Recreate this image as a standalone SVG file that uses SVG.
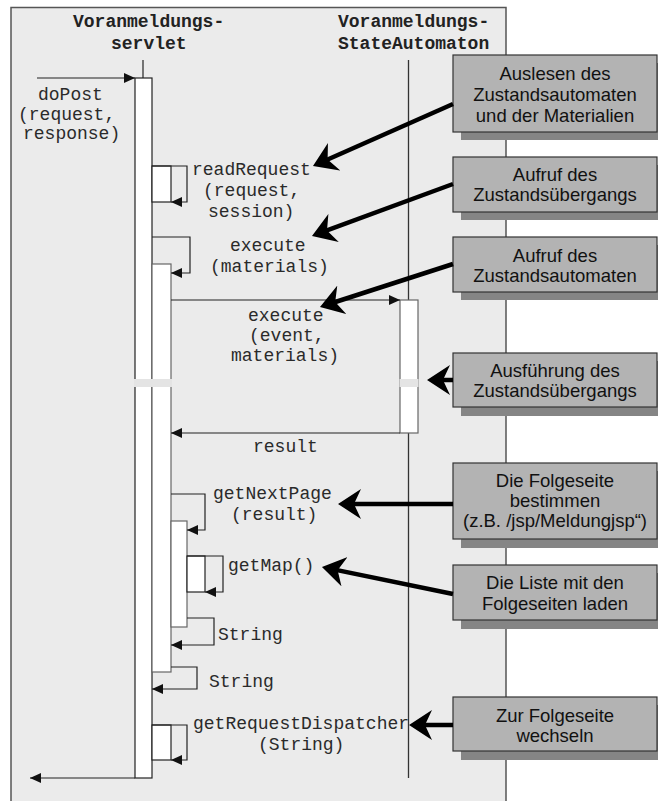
<svg xmlns="http://www.w3.org/2000/svg" width="658" height="801" viewBox="0 0 658 801">
  <style>
    .panel { fill: #ebebeb; stroke: #555; stroke-width: 1.5; }
    .life { stroke: #333; stroke-width: 1.3; fill: none; }
    .bar { fill: #fff; stroke: #222; stroke-width: 1.2; }
    .bar2 { fill: #fff; stroke: #666; stroke-width: 1.2; }
    .msg { stroke: #222; stroke-width: 1.2; fill: none; }
    .code { font-family: "Liberation Mono", "Courier New", monospace; font-size: 18px; fill: #2a2a2a; }
    .head { font-family: "Liberation Mono", "Courier New", monospace; font-size: 18px; font-weight: bold; fill: #222; }
    .note { fill: #b3b3b3; stroke: #333; stroke-width: 1.2; }
    .shadow { fill: #858585; }
    .ntext { font-family: "Liberation Sans", Arial, sans-serif; font-size: 18.5px; fill: #111; text-anchor: middle; }
    .ptr { stroke: #000; stroke-width: 4.5; fill: none; marker-end: url(#stealth); }
    .band { fill: #e4e4e4; }
  </style>
  <defs>
    <marker id="tri" markerUnits="userSpaceOnUse" markerWidth="11" markerHeight="10" refX="11" refY="5" orient="auto">
      <path d="M0,0 L11,5 L0,10 z" fill="#111"/>
    </marker>
    <marker id="stealth" markerUnits="userSpaceOnUse" markerWidth="23" markerHeight="30" refX="15" refY="15" orient="auto">
      <path d="M0,0 L23,15 L0,30 L7,15 z" fill="#000"/>
    </marker>
  </defs>

  <!-- frame of the sequence -->
  <path class="panel" d="M11,802 L11,7.5 L506,7.5 L506,802"/>

  <!-- lifeline: servlet -->
  <g id="servlet">
    <text class="head" x="73" y="27">Voranmeldungs-</text>
    <text class="head" x="111" y="49">servlet</text>
    <line class="life" x1="143" y1="60" x2="143" y2="78"/>
    <rect class="bar" x="135" y="78" width="17" height="700"/>
    <rect class="bar" x="152" y="166" width="19" height="36"/>
    <rect class="bar2" x="152" y="264" width="19" height="408"/>
    <rect class="bar2" x="171" y="521" width="16" height="106"/>
    <rect class="bar" x="187" y="556" width="18" height="36"/>
    <rect class="bar" x="152" y="725" width="19" height="35"/>
    <rect class="band" x="134" y="379" width="38" height="8"/>
  </g>

  <!-- lifeline: state automaton -->
  <g id="automaton">
    <text class="head" x="338" y="27">Voranmeldungs-</text>
    <text class="head" x="338" y="49">StateAutomaton</text>
    <line class="life" x1="408.5" y1="60" x2="408.5" y2="778"/>
    <rect class="bar2" x="400" y="300" width="18" height="133"/>
    <rect class="band" x="399.5" y="379" width="19" height="8"/>
  </g>

  <!-- messages -->
  <g id="connectors">
    <line class="msg" x1="37" y1="78" x2="135" y2="78" marker-end="url(#tri)"/>
    <path class="msg" d="M152,166 H187 V202 H171" marker-end="url(#tri)"/>
    <path class="msg" d="M152,237 H190 V273 H171" marker-end="url(#tri)"/>
    <line class="msg" x1="171" y1="300" x2="400" y2="300" marker-end="url(#tri)"/>
    <line class="msg" x1="400" y1="433" x2="171" y2="433" marker-end="url(#tri)"/>
    <path class="msg" d="M171,494 H205 V530 H187" marker-end="url(#tri)"/>
    <path class="msg" d="M187,556 H223 V592 H205" marker-end="url(#tri)"/>
    <path class="msg" d="M187,618 H214 V645 H171" marker-end="url(#tri)"/>
    <path class="msg" d="M171,667 H197 V689 H152" marker-end="url(#tri)"/>
    <path class="msg" d="M152,725 H187 V760 H171" marker-end="url(#tri)"/>
    <line class="msg" x1="135" y1="778" x2="30" y2="778" marker-end="url(#tri)"/>
  </g>

  <!-- message labels -->
  <g id="labels">
    <text class="code" x="38" y="100">doPost</text>
    <text class="code" x="18" y="120">(request,</text>
    <text class="code" x="23" y="139">response)</text>
    <text class="code" x="192" y="175">readRequest</text>
    <text class="code" x="203" y="196">(request,</text>
    <text class="code" x="208" y="217">session)</text>
    <text class="code" x="230" y="251">execute</text>
    <text class="code" x="210" y="272">(materials)</text>
    <text class="code" x="248" y="321">execute</text>
    <text class="code" x="249" y="341">(event,</text>
    <text class="code" x="231" y="361">materials)</text>
    <text class="code" x="253" y="452">result</text>
    <text class="code" x="213" y="499">getNextPage</text>
    <text class="code" x="231" y="520">(result)</text>
    <text class="code" x="228" y="571">getMap()</text>
    <text class="code" x="218" y="640">String</text>
    <text class="code" x="209" y="687">String</text>
    <text class="code" x="193" y="729">getRequestDispatcher</text>
    <text class="code" x="258" y="750">(String)</text>
  </g>

  <!-- annotation notes -->
  <g id="note-auslesen">
    <rect class="shadow" x="461" y="63" width="204" height="77"/>
    <rect class="note" x="453" y="55" width="204" height="77"/>
    <text class="ntext" x="555" y="80">Auslesen des</text>
    <text class="ntext" x="555" y="101">Zustandsautomaten</text>
    <text class="ntext" x="555" y="122">und der Materialien</text>
  </g>
  <g id="note-aufruf-uebergang">
    <rect class="shadow" x="461" y="165" width="204" height="55"/>
    <rect class="note" x="453" y="157" width="204" height="55"/>
    <text class="ntext" x="555" y="181">Aufruf des</text>
    <text class="ntext" x="555" y="201">Zustandsübergangs</text>
  </g>
  <g id="note-aufruf-automat">
    <rect class="shadow" x="461" y="245" width="204" height="55"/>
    <rect class="note" x="453" y="237" width="204" height="55"/>
    <text class="ntext" x="555" y="262">Aufruf des</text>
    <text class="ntext" x="555" y="282">Zustandsautomaten</text>
  </g>
  <g id="note-ausfuehrung">
    <rect class="shadow" x="461" y="361" width="204" height="55"/>
    <rect class="note" x="453" y="353" width="204" height="54"/>
    <text class="ntext" x="555" y="377">Ausführung des</text>
    <text class="ntext" x="555" y="397">Zustandsübergangs</text>
  </g>
  <g id="note-folgeseite">
    <rect class="shadow" x="461" y="471" width="204" height="77"/>
    <rect class="note" x="453" y="463" width="204" height="76"/>
    <text class="ntext" x="555" y="487">Die Folgeseite</text>
    <text class="ntext" x="555" y="507">bestimmen</text>
    <text class="ntext" x="555" y="527">(z.B. /jsp/Meldungjsp“)</text>
  </g>
  <g id="note-liste">
    <rect class="shadow" x="461" y="573" width="204" height="56"/>
    <rect class="note" x="453" y="565" width="204" height="55"/>
    <text class="ntext" x="555" y="589">Die Liste mit den</text>
    <text class="ntext" x="555" y="610">Folgeseiten laden</text>
  </g>
  <g id="note-wechseln">
    <rect class="shadow" x="461" y="705" width="204" height="55"/>
    <rect class="note" x="453" y="697" width="204" height="54"/>
    <text class="ntext" x="555" y="722">Zur Folgeseite</text>
    <text class="ntext" x="555" y="742">wechseln</text>
  </g>

  <!-- pointers from notes -->
  <g id="pointers">
    <line class="ptr" x1="453" y1="104" x2="320.3" y2="162.8"/>
    <line class="ptr" x1="453" y1="184" x2="319.5" y2="233.2"/>
    <line class="ptr" x1="453" y1="264" x2="327.6" y2="304.5"/>
    <line class="ptr" x1="453" y1="380" x2="435" y2="380"/>
    <line class="ptr" x1="453" y1="504" x2="346" y2="504"/>
    <line class="ptr" x1="453" y1="594" x2="329.8" y2="568.6"/>
    <line class="ptr" x1="453" y1="725" x2="417" y2="725"/>
  </g>
</svg>
